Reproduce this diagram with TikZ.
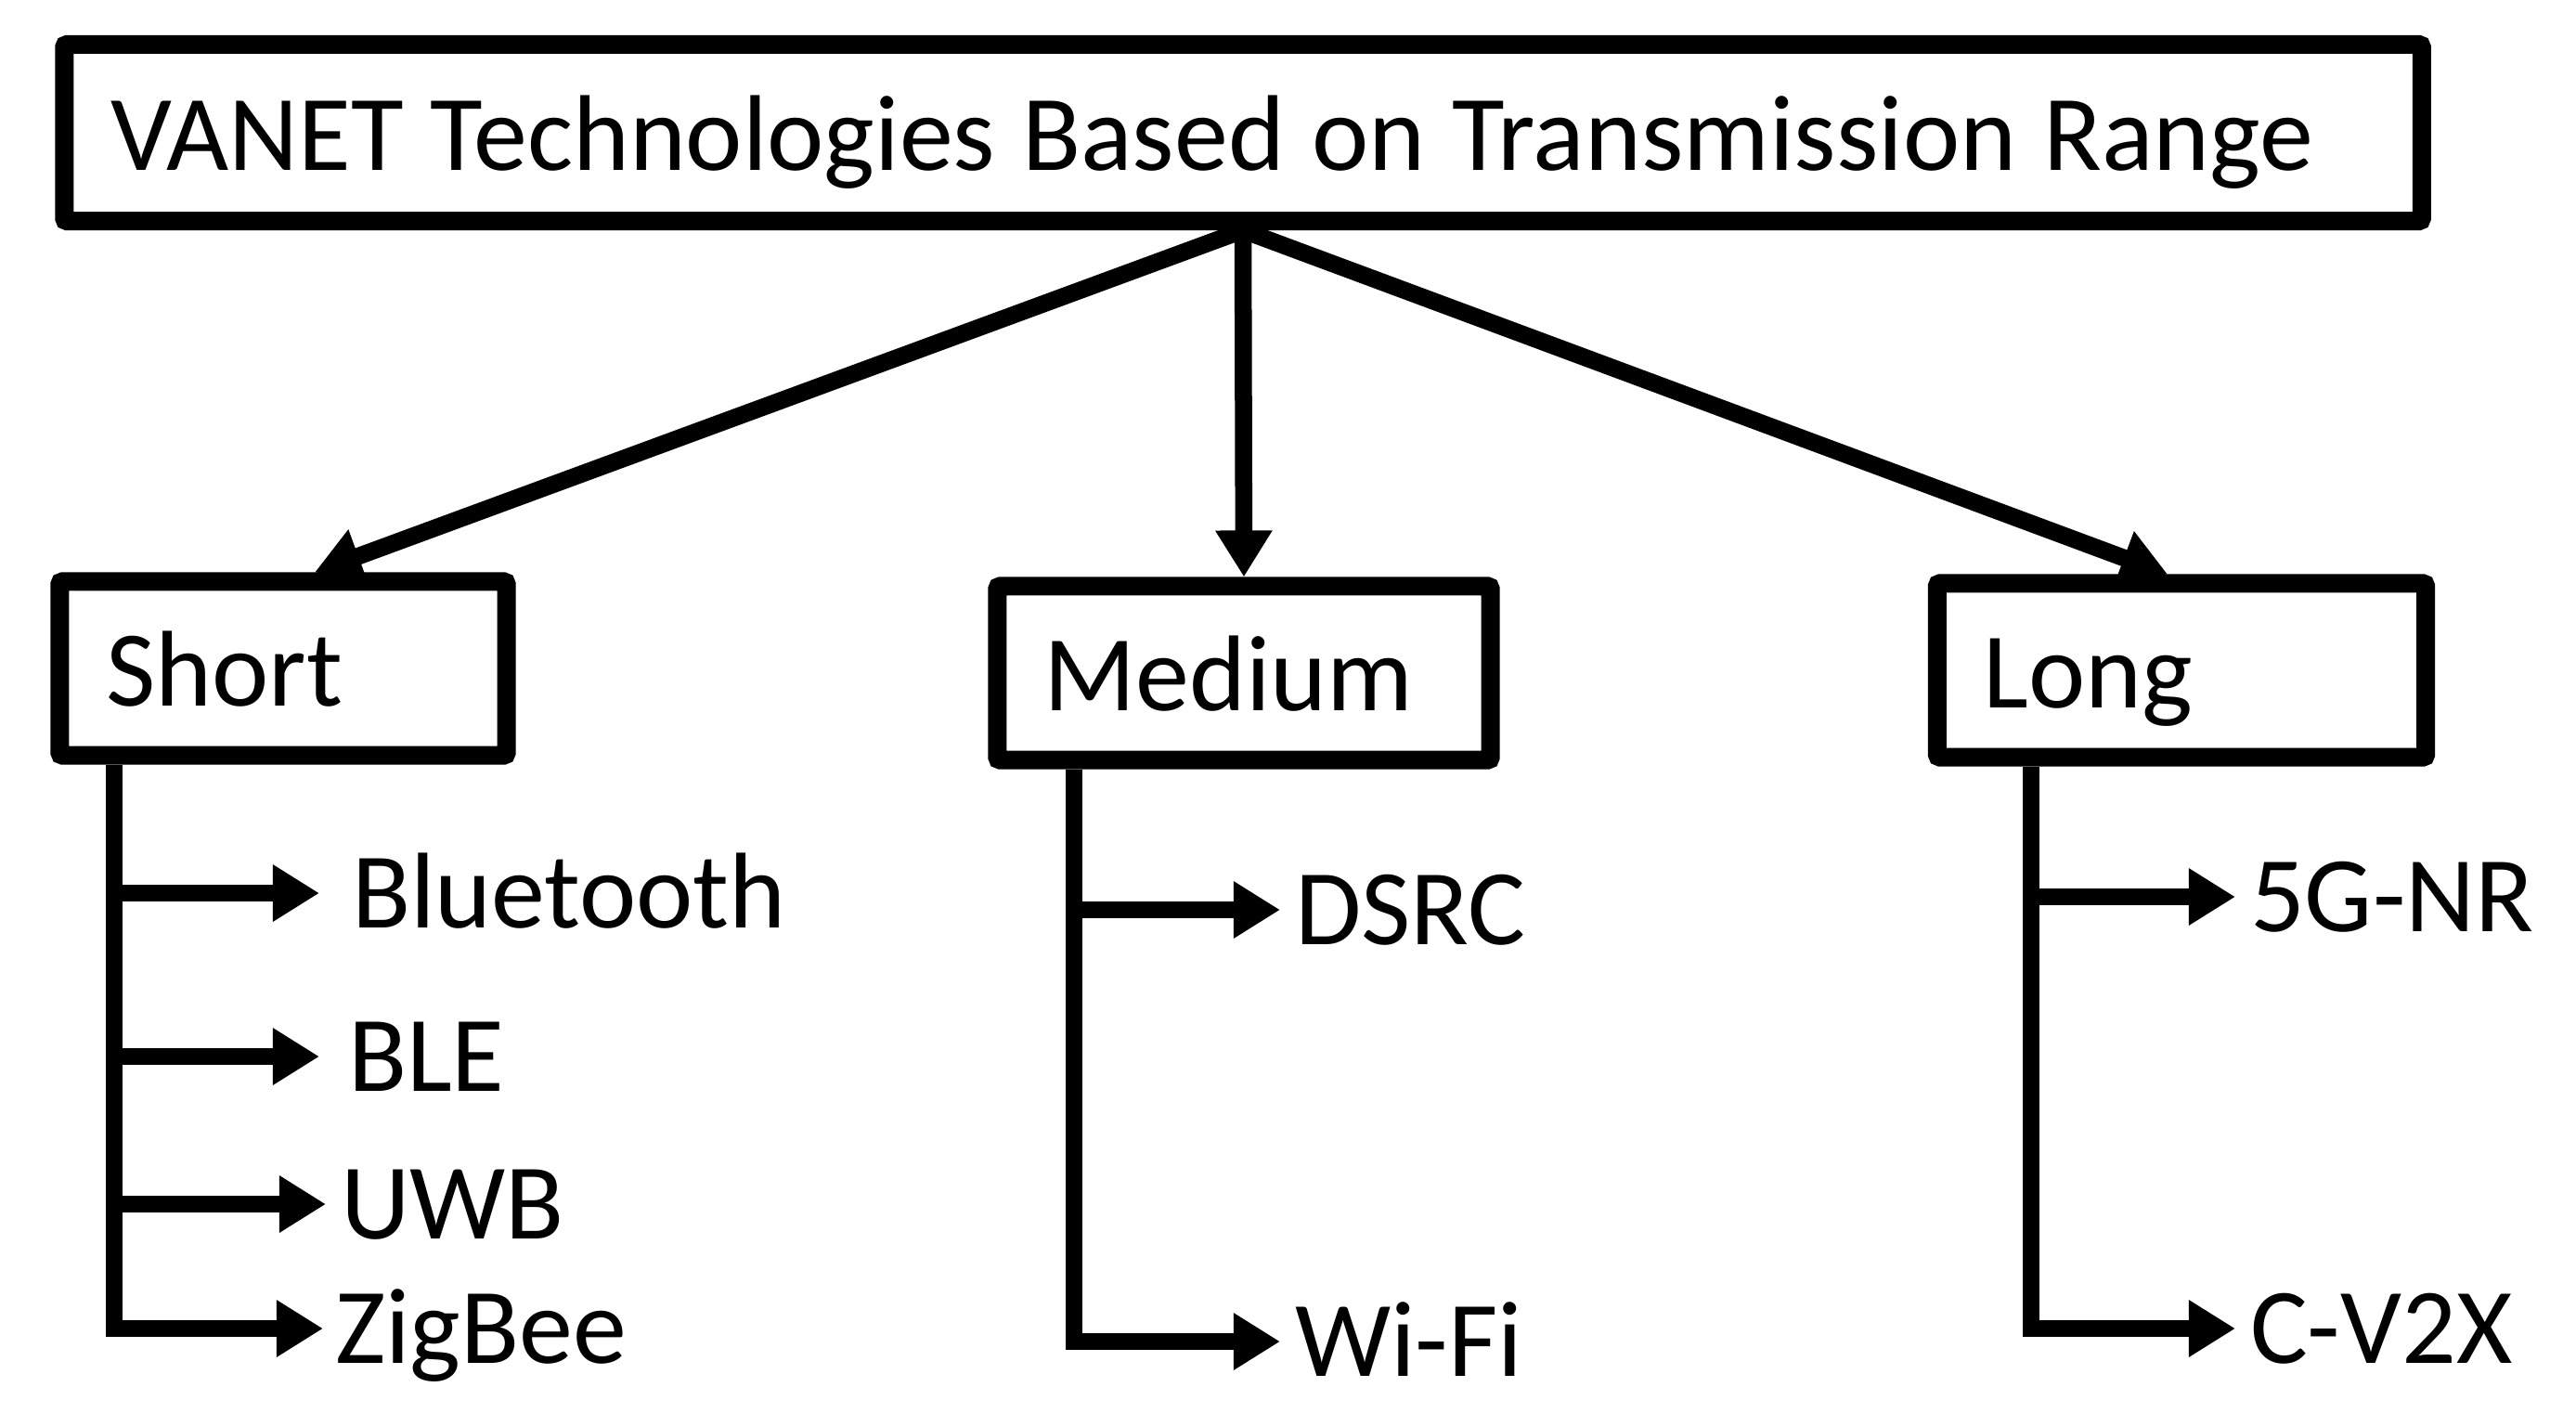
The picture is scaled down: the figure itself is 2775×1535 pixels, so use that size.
\documentclass[tikz,border=0pt]{standalone}
\usepackage{fontspec}
\setmainfont{Carlito}
\usetikzlibrary{arrows.meta}
\begin{document}
\begin{tikzpicture}[x=0.01cm,y=-0.01cm,
  boxstyle/.style={draw, line width=0.20cm, rounded corners=0.03cm, inner xsep=0.5cm, inner ysep=0pt,
    text height=0.80cm, text depth=0pt, align=left, minimum height=1.87cm,
    font=\fontsize{33}{40}\selectfont},
  itemstyle/.style={anchor=west, inner xsep=0.16cm, inner ysep=0pt, outer sep=0pt,
    text height=0.75cm, text depth=0pt, font=\fontsize{33}{40}\selectfont},
  conn/.style={line width=0.185cm},
  arr/.style={conn, -{Triangle[length=0.5cm, width=0.58cm]}},
]
\fill[white] (0,0) rectangle (2775,1535);
\useasboundingbox (0,0) rectangle (2775,1535);

% boxes
\node[boxstyle, text width=24.38cm, minimum height=1.90cm] (title) at (1339,143) {\spaceskip=0.25em\relax VANET Technologies Based on Transmission Range};
\node[boxstyle, text width=3.81cm] (short) at (305,720) {Short};
\node[boxstyle, text width=4.31cm] (medium) at (1340,725) {Medium};
\node[boxstyle, text width=4.26cm] (long) at (2350,722) {Long};

% spine positions
\coordinate (shx) at (123,0);
\coordinate (mdx) at (1157,0);
\coordinate (lgx) at (2188,0);

% items
\node[itemstyle, inner xsep=0.35cm] (bt) at (344,962) {Bluetooth};
\node[itemstyle, inner xsep=0.31cm] (ble) at (344,1138) {BLE};
\node[itemstyle] (uwb) at (351,1297) {UWB};
\node[itemstyle, inner xsep=0.13cm] (zb) at (348,1431) {ZigBee};
\node[itemstyle] (dsrc) at (1379,980) {DSRC};
\node[itemstyle] (wifi) at (1379,1445) {Wi-Fi};
\node[itemstyle] (nr) at (2408,966) {5G-NR};
\node[itemstyle] (cv) at (2408,1431) {C-V2X};

% top arrows
\draw[arr] (title.south) -- ([xshift=0.34cm]short.north);
\draw[arr] (title.south) -- (medium.north);
\draw[arr] (title.south) -- ([xshift=-0.15cm]long.north);

% short
\draw[arr] (short.south -| shx) |- (zb.west);
\draw[arr] (shx |- bt.west) -- (bt.west);
\draw[arr] (shx |- ble.west) -- (ble.west);
\draw[arr] (shx |- uwb.west) -- (uwb.west);

% medium
\draw[arr] (medium.south -| mdx) |- (wifi.west);
\draw[arr] (mdx |- dsrc.west) -- (dsrc.west);

% long
\draw[arr] (long.south -| lgx) |- (cv.west);
\draw[arr] (lgx |- nr.west) -- (nr.west);
\end{tikzpicture}
\end{document}
